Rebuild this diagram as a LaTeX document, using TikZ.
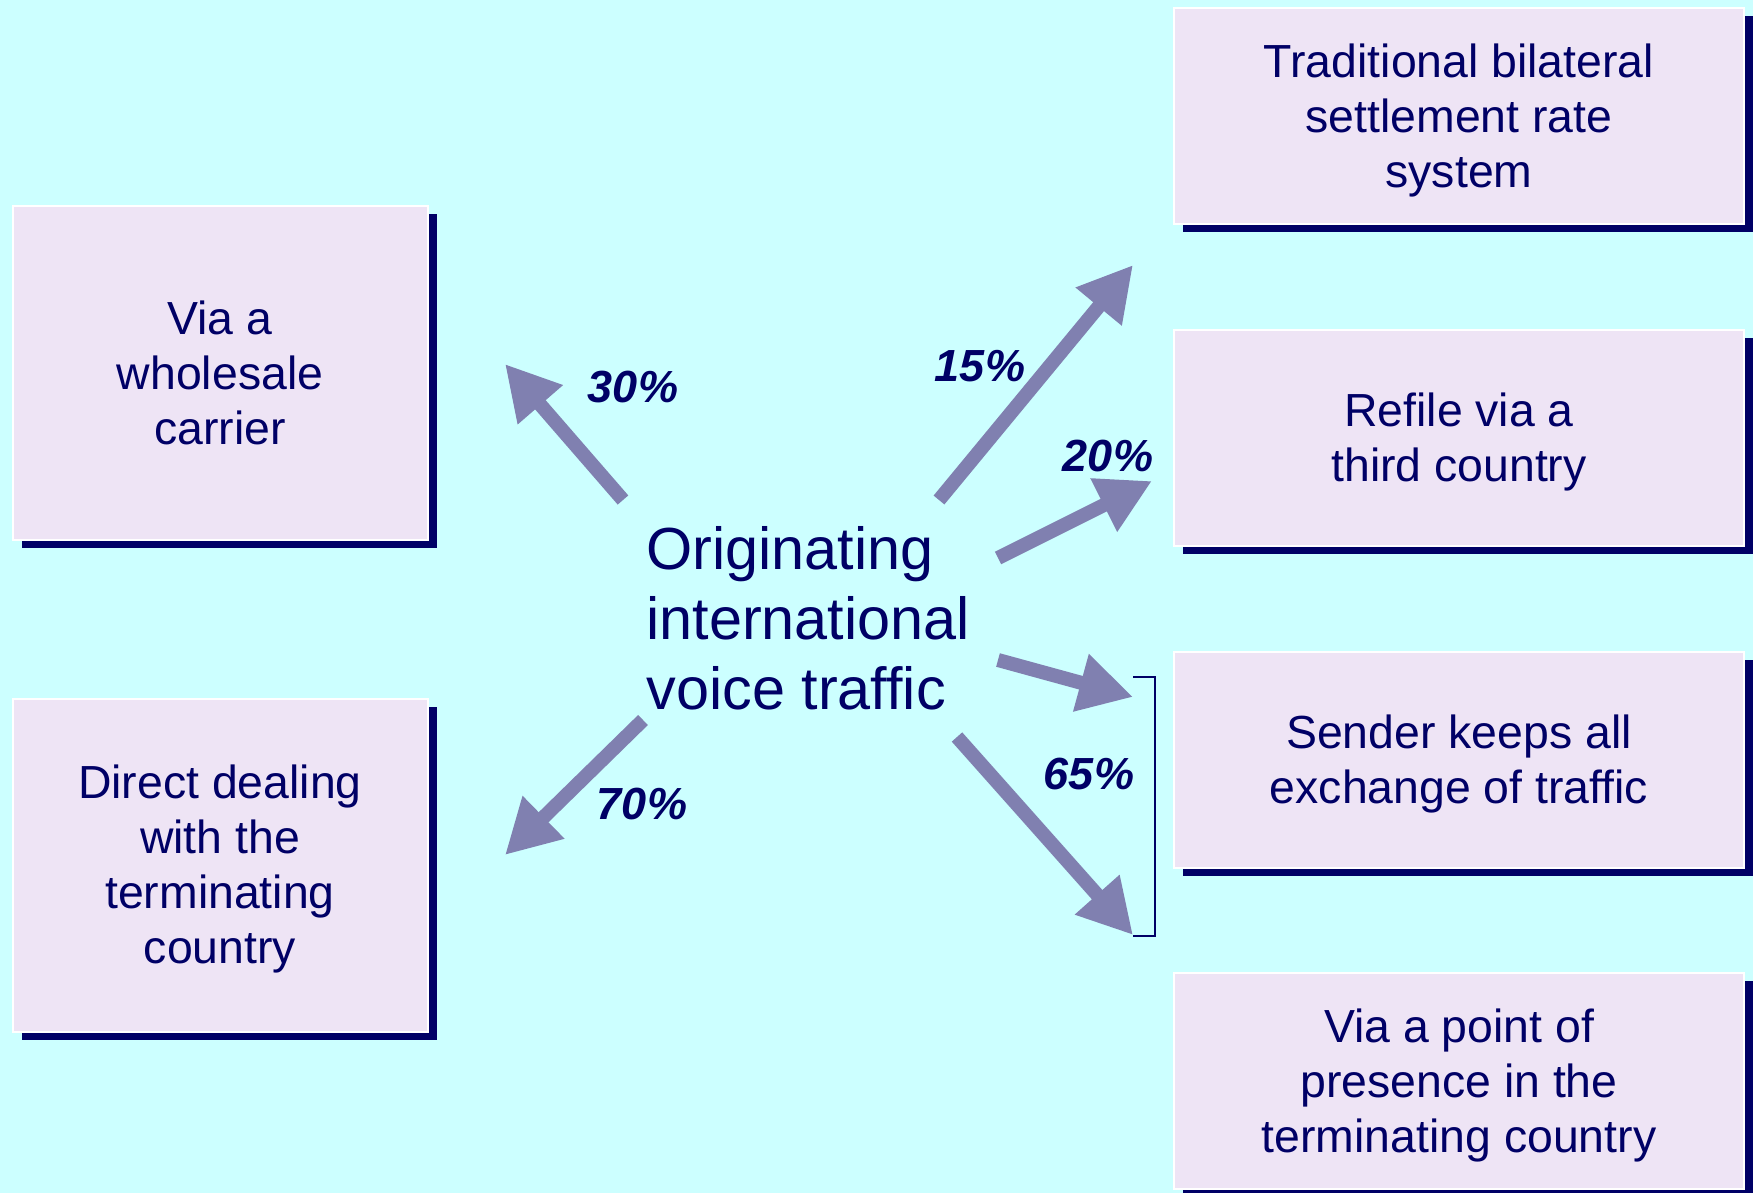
\documentclass[tikz,border=0pt]{standalone}
\usepackage{fontspec}
\setmainfont{Liberation Sans}
\usetikzlibrary{arrows.meta,shadows}

\definecolor{bgcyan}{HTML}{CCFFFF}
\definecolor{boxfill}{HTML}{EEE4F5}
\definecolor{navy}{HTML}{000066}
\definecolor{flowblue}{HTML}{8080B0}

% strut with the ascent and descent of the font
\newcommand{\ls}{\rule[-0.212em]{0pt}{1.117em}}

\tikzset{
  route/.style={draw=white, line width=1pt, fill=boxfill, text=navy, align=center,
    font=\fontsize{23.2}{27.5}\selectfont, inner sep=0pt,
    execute at end node=\ls,
    drop shadow={shadow xshift=4.5pt, shadow yshift=-4pt, fill=navy, opacity=1}},
  leftroute/.style={route, minimum width=207.5pt, minimum height=166.5pt},
  rightroute/.style={route, minimum width=285pt, minimum height=108pt},
  flow/.style={flowblue, line width=7pt, -{Triangle[length=27pt,width=28pt]}},
  share/.style={text=navy, font=\fontsize{22.5}{27}\selectfont\bfseries\itshape},
}

\begin{document}
\begin{tikzpicture}[x=0.5pt, y=-0.5pt]
    % Background
    \useasboundingbox (0,0) rectangle (1753,1193);
    \fill[bgcyan] (0,0) rectangle (1753,1193);

    % Routes on the left
    \node[leftroute] (wholesale) at (220,373) {\ls Via a\\wholesale\\carrier};
    \node[leftroute] (direct) at (220,865) {\ls Direct dealing\\with the\\terminating\\country};

    % Routes on the right
    \node[rightroute] (bilateral) at (1459,116) {\ls Traditional bilateral\\settlement rate\\system};
    \node[rightroute] (refile) at (1459,438) {\ls Refile via a\\third country};
    \node[rightroute] (sender) at (1459,760) {\ls Sender keeps all\\exchange of traffic};
    \node[rightroute] (presence) at (1459,1081) {\ls Via a point of\\presence in the\\terminating country};

    % Origin of the traffic
    \node[anchor=west, align=left, text=navy, inner sep=0pt,
          font=\fontsize{29.7}{35}\selectfont] (origin) at (646,618)
          {Originating\\international\\voice traffic};

    % Arrow ends
    \coordinate (from30) at (623,500);  \coordinate (to30) at (505,364);
    \coordinate (from15) at (939,500);  \coordinate (to15) at (1133,265);
    \coordinate (from20) at (998,558);  \coordinate (to20) at (1152,481);
    \coordinate (fromsk) at (998,660);  \coordinate (tosk) at (1133,697);
    \coordinate (frompp) at (957,737);  \coordinate (topp) at (1133,935);
    \coordinate (from70) at (643,720);  \coordinate (to70) at (505,855);

    % Arrows
    \draw[flow] (from30) -- (to30);
    \draw[flow] (from15) -- (to15);
    \draw[flow] (from20) -- (to20);
    \draw[flow] (fromsk) -- (tosk);
    \draw[flow] (frompp) -- (topp);
    \draw[flow] (from70) -- (to70);

    % Bracket for the two lower routes
    \draw[navy, line width=1pt] (1133,677) -| (1155,936) -- (1133,936);

    % Shares
    \node[share] (p30) at (633,387) {30\%};
    \node[share] (p15) at (980,366) {15\%};
    \node[share] (p20) at (1108,456) {20\%};
    \node[share] (p65) at (1089,774) {65\%};
    \node[share] (p70) at (642,804) {70\%};

\end{tikzpicture}
\end{document}
